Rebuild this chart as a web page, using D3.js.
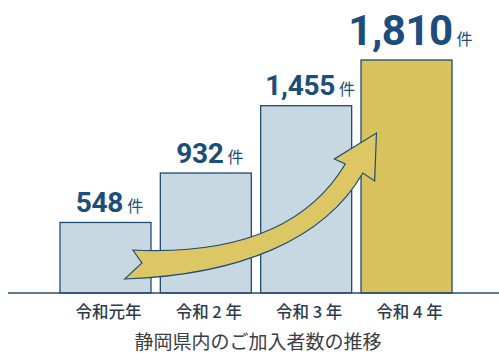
<!DOCTYPE html>
<html>
<head>
<meta charset="utf-8">
<script src="https://cdn.jsdelivr.net/npm/d3@7"></script>
<style>
  body { margin: 0; background: #fff; }
  svg { display: block; }
</style>
</head>
<body>
<svg id="chart"></svg>
<script>
// data
var years = ['令和元年', '令和２年', '令和３年', '令和４年'];
var yearLabels = ['令和元年', '令和 2 年', '令和 3 年', '令和 4 年'];
var counts = [548, 932, 1455, 1810];
var title = '静岡県内のご加入者数の推移';

var W = 499, H = 353;
var base = 293;

var svg = d3.select('#chart')
    .attr('width', W)
    .attr('height', H);

var x = d3.scaleBand()
    .domain(years)
    .range([60, 452])
    .paddingInner(0.093)
    .paddingOuter(0);

var y = d3.scaleLinear()
    .domain([0, 1810])
    .range([base, 60]);

var bw = x.bandwidth();
var dark = '#1f4c74';

// bars
svg.append('g')
    .selectAll('rect')
    .data(counts)
    .enter()
    .append('rect')
    .attr('x', function(d, i) { return x(years[i]); })
    .attr('y', function(d) { return y(d); })
    .attr('width', bw)
    .attr('height', function(d) { return base - y(d); })
    .attr('fill', function(d, i) { return i == 3 ? '#d8c35f' : '#c7d8e3'; })
    .attr('stroke', dark)
    .attr('stroke-width', 1.3);

// baseline
svg.append('line')
    .attr('x1', 8).attr('x2', W)
    .attr('y1', base).attr('y2', base)
    .attr('stroke', '#2a4b6e')
    .attr('stroke-width', 1.5);

// curved arrow (decoration), anchored on the band scale
function pt(i, fx, dy) {
  return [x(years[i]) + fx * bw, base - dy];
}
var p = d3.path();
var a = pt(0, 0.80, 43);
p.moveTo(a[0], a[1]);
var c1 = pt(1, 0.87, 38), c2 = pt(2, 0.53, 68), e = pt(2, 0.93, 129);
p.bezierCurveTo(c1[0], c1[1], c2[0], c2[1], e[0], e[1]);
[pt(2, 0.81, 134), pt(3, 0.17, 160), pt(3, 0.15, 112), pt(3, 0.02, 120)].forEach(function(q) {
  p.lineTo(q[0], q[1]);
});
c1 = pt(2, 0.70, 53); c2 = pt(1, 0.87, 18); e = pt(0, 0.71, 14);
p.bezierCurveTo(c1[0], c1[1], c2[0], c2[1], e[0], e[1]);
var n = pt(0, 0.90, 30);
p.lineTo(n[0], n[1]);
p.closePath();

svg.append('path')
    .attr('d', p.toString())
    .attr('fill', '#dcc764')
    .attr('stroke', dark)
    .attr('stroke-width', 1.2)
    .attr('stroke-linejoin', 'miter');

// value labels
var labels = svg.append('g')
    .selectAll('text')
    .data(counts)
    .enter()
    .append('text')
    .attr('x', function(d, i) { return x(years[i]) + bw / 2 + 4; })
    .attr('y', function(d, i) { return y(d) - (i == 3 ? 15 : 10.5); })
    .attr('text-anchor', 'middle')
    .attr('fill', '#1c4d7b');

labels.append('tspan')
    .attr('font-family', 'Roboto, "Liberation Sans", sans-serif')
    .attr('font-weight', 'bold')
    .attr('font-size', function(d, i) { return i == 3 ? 42 : 28; })
    .attr('letter-spacing', function(d, i) { return i == 3 ? -0.5 : -0.3; })
    .text(function(d) { return d3.format(',')(d); });

labels.append('tspan')
    .attr('dx', 4)
    .attr('font-family', '"Noto Sans CJK JP", sans-serif')
    .attr('font-size', 16)
    .text('件');

// category labels
svg.append('g')
    .selectAll('text')
    .data(years)
    .enter()
    .append('text')
    .attr('x', function(d) { return x(d) + bw / 2 + 3; })
    .attr('y', 318)
    .attr('text-anchor', 'middle')
    .attr('font-family', '"Noto Sans CJK JP", sans-serif')
    .attr('font-size', 16.5)
    .attr('font-weight', 500)
    .attr('fill', '#2c3c4e')
    .text(function(d, i) { return yearLabels[i]; });

// title
svg.append('text')
    .attr('x', (x.range()[0] + x.range()[1]) / 2 + 2)
    .attr('y', 349)
    .attr('text-anchor', 'middle')
    .attr('font-family', '"Noto Sans CJK JP", sans-serif')
    .attr('font-size', 19)
    .attr('fill', '#3a3d42')
    .text(title);
</script>
</body>
</html>
